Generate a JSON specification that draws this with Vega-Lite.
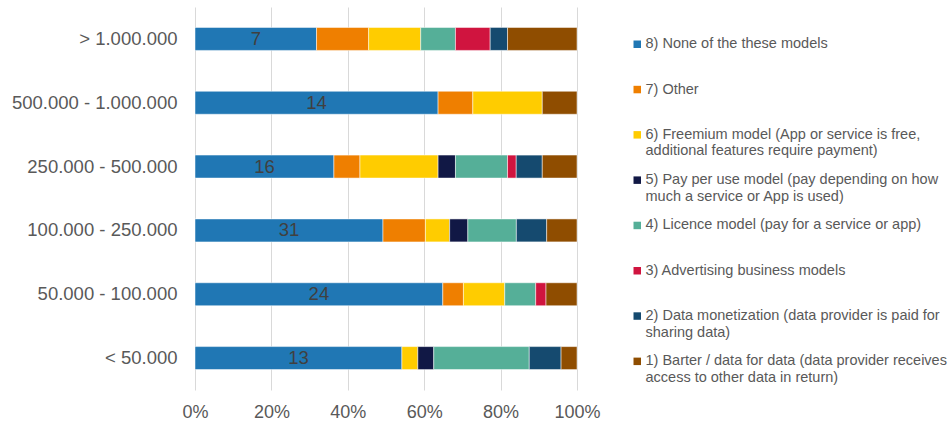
{
  "$schema": "https://vega.github.io/schema/vega-lite/v6.json",
  "width": 382,
  "height": 383,
  "autosize": "none",
  "padding": {"left": 195, "top": 7, "right": 374, "bottom": 37},
  "background": "white",
  "config": {
    "font": "Liberation Sans",
    "view": {"stroke": null}
  },
  "data": {
    "values": [
      {"size": "> 1.000.000", "series": "8) None of the these models", "count": 7},
      {"size": "> 1.000.000", "series": "7) Other", "count": 3},
      {"size": "> 1.000.000", "series": "6) Freemium model (App or service is free,|additional features require payment)", "count": 3},
      {"size": "> 1.000.000", "series": "4) Licence model (pay for a service or app)", "count": 2},
      {"size": "> 1.000.000", "series": "3) Advertising business models", "count": 2},
      {"size": "> 1.000.000", "series": "2) Data monetization (data provider is paid for|sharing data)", "count": 1},
      {"size": "> 1.000.000", "series": "1) Barter / data for data (data provider receives|access to other data in return)", "count": 4},
      {"size": "500.000 - 1.000.000", "series": "8) None of the these models", "count": 14},
      {"size": "500.000 - 1.000.000", "series": "7) Other", "count": 2},
      {"size": "500.000 - 1.000.000", "series": "6) Freemium model (App or service is free,|additional features require payment)", "count": 4},
      {"size": "500.000 - 1.000.000", "series": "1) Barter / data for data (data provider receives|access to other data in return)", "count": 2},
      {"size": "250.000 - 500.000", "series": "8) None of the these models", "count": 16},
      {"size": "250.000 - 500.000", "series": "7) Other", "count": 3},
      {"size": "250.000 - 500.000", "series": "6) Freemium model (App or service is free,|additional features require payment)", "count": 9},
      {"size": "250.000 - 500.000", "series": "5) Pay per use model (pay depending on how|much a service or App is used)", "count": 2},
      {"size": "250.000 - 500.000", "series": "4) Licence model (pay for a service or app)", "count": 6},
      {"size": "250.000 - 500.000", "series": "3) Advertising business models", "count": 1},
      {"size": "250.000 - 500.000", "series": "2) Data monetization (data provider is paid for|sharing data)", "count": 3},
      {"size": "250.000 - 500.000", "series": "1) Barter / data for data (data provider receives|access to other data in return)", "count": 4},
      {"size": "100.000 - 250.000", "series": "8) None of the these models", "count": 31},
      {"size": "100.000 - 250.000", "series": "7) Other", "count": 7},
      {"size": "100.000 - 250.000", "series": "6) Freemium model (App or service is free,|additional features require payment)", "count": 4},
      {"size": "100.000 - 250.000", "series": "5) Pay per use model (pay depending on how|much a service or App is used)", "count": 3},
      {"size": "100.000 - 250.000", "series": "4) Licence model (pay for a service or app)", "count": 8},
      {"size": "100.000 - 250.000", "series": "2) Data monetization (data provider is paid for|sharing data)", "count": 5},
      {"size": "100.000 - 250.000", "series": "1) Barter / data for data (data provider receives|access to other data in return)", "count": 5},
      {"size": "50.000 - 100.000", "series": "8) None of the these models", "count": 24},
      {"size": "50.000 - 100.000", "series": "7) Other", "count": 2},
      {"size": "50.000 - 100.000", "series": "6) Freemium model (App or service is free,|additional features require payment)", "count": 4},
      {"size": "50.000 - 100.000", "series": "4) Licence model (pay for a service or app)", "count": 3},
      {"size": "50.000 - 100.000", "series": "3) Advertising business models", "count": 1},
      {"size": "50.000 - 100.000", "series": "1) Barter / data for data (data provider receives|access to other data in return)", "count": 3},
      {"size": "< 50.000", "series": "8) None of the these models", "count": 13},
      {"size": "< 50.000", "series": "6) Freemium model (App or service is free,|additional features require payment)", "count": 1},
      {"size": "< 50.000", "series": "5) Pay per use model (pay depending on how|much a service or App is used)", "count": 1},
      {"size": "< 50.000", "series": "4) Licence model (pay for a service or app)", "count": 6},
      {"size": "< 50.000", "series": "2) Data monetization (data provider is paid for|sharing data)", "count": 2},
      {"size": "< 50.000", "series": "1) Barter / data for data (data provider receives|access to other data in return)", "count": 1}
    ]
  },
  "transform": [
    {"stack": "count", "groupby": ["size"], "offset": "normalize", "sort": [{"field": "series", "order": "descending"}], "as": ["x0", "x1"]},
    {"calculate": "(datum.x0 + datum.x1) / 2", "as": "xmid"}
  ],
  "encoding": {
    "y": {
      "field": "size",
      "type": "nominal",
      "sort": ["> 1.000.000", "500.000 - 1.000.000", "250.000 - 500.000", "100.000 - 250.000", "50.000 - 100.000", "< 50.000"],
      "scale": {"paddingInner": 0.64, "paddingOuter": 0.32},
      "axis": {"title": null, "ticks": false, "domain": false, "labelFontSize": 18.5, "labelColor": "#595959", "labelPadding": 18}
    }
  },
  "layer": [
    {
      "mark": {"type": "bar", "stroke": "white", "strokeWidth": 0.5},
      "encoding": {
        "x": {
          "field": "x0",
          "type": "quantitative",
          "scale": {"domain": [0, 1]},
          "axis": {"title": null, "format": ".0%", "values": [0, 0.2, 0.4, 0.6, 0.8, 1], "ticks": false, "domain": false, "labelFlush": false, "gridColor": "#D9D9D9", "gridWidth": 1, "labelFontSize": 18, "labelColor": "#595959", "labelPadding": 13}
        },
        "x2": {"field": "x1"},
        "color": {
          "field": "series",
          "type": "nominal",
          "scale": {
            "domain": [
              "8) None of the these models",
              "7) Other",
              "6) Freemium model (App or service is free,|additional features require payment)",
              "5) Pay per use model (pay depending on how|much a service or App is used)",
              "4) Licence model (pay for a service or app)",
              "3) Advertising business models",
              "2) Data monetization (data provider is paid for|sharing data)",
              "1) Barter / data for data (data provider receives|access to other data in return)"
            ],
            "range": ["#2077B4", "#EF7F00", "#FFCC00", "#111845", "#55AF98", "#D0143F", "#154A6F", "#8F4D00"]
          },
          "legend": {
            "title": null,
            "orient": "none",
            "legendX": 435,
            "legendY": 30,
            "padding": 0,
            "symbolType": "square",
            "symbolSize": 56,
            "symbolStrokeWidth": 0,
            "labelFontSize": 14.5,
            "labelColor": "#595959",
            "labelOffset": 1,
            "labelLimit": 400,
            "rowPadding": 13.3,
            "labelExpr": "indexof(datum.label, '|') >= 0 ? split(datum.label, '|') : [datum.label, ' ']",
            "encoding": {
              "labels": {"update": {"dy": {"value": 8}, "lineHeight": {"value": 16}}}
            }
          }
        }
      }
    },
    {
      "transform": [{"filter": "datum.series == '8) None of the these models'"}],
      "mark": {"type": "text", "fontSize": 18.5, "color": "#404040", "baseline": "middle"},
      "encoding": {
        "x": {"field": "xmid", "type": "quantitative"},
        "text": {"field": "count", "type": "quantitative"}
      }
    }
  ]
}
